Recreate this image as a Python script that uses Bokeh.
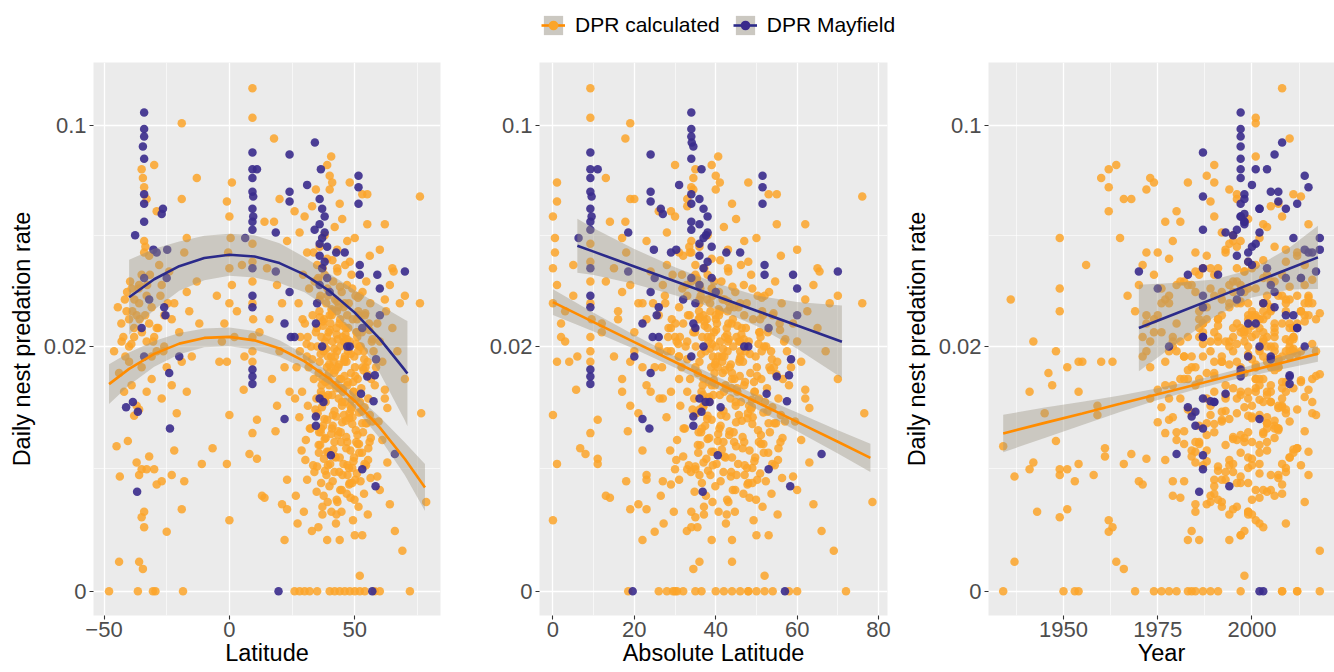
import numpy as np
from bokeh.plotting import figure
from bokeh.layouts import column, row
from bokeh.models import (Range1d, FixedTicker, CustomJSTickFormatter, Legend,
                          LegendItem, ColumnDataSource)
from bokeh.embed import file_html
from bokeh.resources import INLINE

# ---------------- data: DPR Mayfield (latitude, DPR, year) ----------------
may_lat = [-34, -34, -34, -34.5, -34, -34, -34, -34, -37.6, -30.3,
           -29, -24.8, -27, -26.5, -34, -32, -25, -26, -25.5, -35,
           -41.2, -38.5, -36.5, -34, -20, -24, -23.7, -36.8, 9.2, 9.2,
           11, 9.2, 9.2, 9.5, 9.2, 9.5, 9.2, 9.2, 9.2, 9.2,
           9.2, 9.2, 9.2, 9.2, 6.3, 18.5, 18.5, 24, 24, 24,
           24, 34.1, 31, 36.5, 36, 37, 38, 36, 38, 37,
           39, 36, 38, 37, 39, 36, 34, 51.5, 51.5, 51.5,
           42.6, 46, 52, 52, 59, 60, 70, 60, 53, 22,
           24.5, 26, 34.5, 48, 37, 47, 55, 58, 58.5, 57.5,
           52.5, 66, 53, 58.3, 40.5, 19.6, 57, 22, 34.5, 34.5,
           36, 37.5, 35, 40, 36]
may_dpr = [.107, .098, .094, .089, .083, .067, .063, .056, .051, .046,
           .045, .046, .059, .061, .037, .031, .037, .029, .027, .024,
           .0098, .0105, .0092, .018, .018, .015, .0072, .0021, .086, .078,
           .078, .074, .068, .066, .061, .058, .056, .053, .040, .032,
           .029, .0156, .0144, .0132, .050, .052, .039, .085, .068, .064,
           .033, .091, .071, .078, .065, .061, .058, .055, .052, .050,
           .047, .044, .042, .040, .037, .035, .053, .075, .070, .063,
           .045, .045, .041, .038, .038, .034, .039, .027, .024, .025,
           .022, .022, .025, .020, .020, .020, .0144, .0146, .0175, .0106,
           .0117, .0047, .0035, .0024, .0046, 0, 0, .0083, .0086, .0075,
           .011, .0105, .030, .033, .048]
may_year = [1997, 1997, 1997, 1997, 1997, 1998, 1997, 1998, 1995, 2014,
            1999, 2018, 1998, 2002, 2009, 1996, 2013, 2006, 2011, 2012,
            1983, 1990, 1985, 1999, 2005, 1997, 1987, 1986, 1987, 2001,
            2004, 1997, 2005, 1987, 2009, 1997, 1998, 1987, 1987, 1987,
            1987, 1997, 1997, 2010, 2018, 1993, 1970, 2006, 2007, 2007,
            2006, 2008, 2000, 1997, 1998, 2002, 1997, 1998, 2002, 2011,
            2000, 1996, 1999, 2004, 2013, 2005, 1996, 2014, 2015, 2012,
            2015, 2016, 2000, 1991, 1983, 1975, 2017, 2009, 2012, 1999,
            1987, 1987, 2001, 2014, 1978, 2002, 2010, 2010, 2005, 1989,
            1993, 1980, 1987, 1994, 1987, 2002, 2003, 2002, 1984, 1985,
            1987, 1990, 2003, 1997, 2001]

# ---------------- data: DPR calculated, southern studies ----------------
south_lat = [-48, -36.5, -30.5, -29.5, -18.5,
             -35, -34.5, -34, -33, -30, -29, -19, -13, -19, -17, -18, -34, -33.5, -34, -32,
             -41.7, -41, -40, -38, -36, -35, -33, -31, -30, -27, -26, -24, -22, -20, -17, -16, -13, -12, -43, -39, -28,
             -40, -38, -37, -36, -33, -32, -31, -29, -26, -23,
             -46, -44, -42, -40, -39, -37, -35, -33, -31, -29, -27, -25, -23, -21, -19, -17, -15, -36, -38,
             -45, -43.7, -44, -40.5, -37, -35, -33, -30, -36, -34, -35, -34, -36, -34.5, -27, -25, -23, -18, -19, -32, -29, -22]
south_dpr = [0, 0, 0, 0, 0,
             .078, .074, .070, .065, .080, .060, .101, .074, .065, .050, .045, .049, .047, .045, .044,
             .031, .028, .026, .024, .035, .038, .032, .029, .022, .035, .027, .039, .030, .023, .033, .028, .036, .025, .021, .034, .041,
             .020, .022, .027, .030, .021, .025, .018, .024, .020, .026,
             .019, .015, .012, .017, .013, .010, .016, .012, .014, .019, .011, .016, .013, .009, .017, .012, .018, .0095, .0087,
             .0054, .003, .0001, .0059, .004, .0035, .0035, .0035, .0031, .0012, .001, .0007, .0001, .00005, .0027, .00058, .0031, .0027, .0013, .0045, .0025, .005]
south_year = [1934, 1950, 1953, 1954, 1969,
              1962, 1960, 1962, 1968, 1964, 1962, 2001, 1973, 1966, 1949, 1975, 1995, 1996, 1972, 1988,
              1936, 1949, 1974, 1986, 1970, 1990, 1978, 1994, 2000, 1980, 1992, 1985, 1997, 1976, 1998, 2003, 1982, 2008, 1942, 1949, 1971,
              1979, 1991, 2004, 1996, 1989, 2006, 1984, 2010, 1999, 2002,
              1948, 1946, 1941, 1955, 1947, 1959, 1951, 1954, 1981, 1972, 1993, 2001, 1977, 1945, 1963, 2005, 1987, 1983, 1999,
              1934, 1937, 1937, 1948, 1942, 1941, 1949, 1951, 1949, 1943, 1949, 1963, 1964, 1966, 1953, 1962, 1958, 1970, 1951, 1961, 1971, 1984]

south2_lat = [-44.5, -39.6, -35.8, -42.3, -31.7, -37.9, -28.4, -40.8, -33.6, -26.3,
              -43.1, -36.2, -30.4, -38.7, -34.9, -27.5, -41.5, -32.8, -24.6, -39.1]
south2_dpr = [.029, .036, .026, .022, .038, .031, .024, .033, .027, .019,
              .025, .034, .021, .028, .023, .032, .018, .035, .030, .0205]
south2_year = [1988, 1995, 2003, 1979, 2008, 1992, 2011, 1985, 1999, 2006,
               1972, 2001, 1994, 2013, 1990, 2004, 1982, 1997, 2015, 1987]

# ---------------- DPR calculated, tropical studies ----------------
trop_lat = [-6.7, -11, -1, 0, 0, -4, -1, 5.7, 8, 11, 9.2, 11, 13, 14, 18.4, 21, 23, 22, 23,
            1, -1, 0, 0.5, -0.5, 0, 1, 0, -2, -3, 2,
            9.2, 9.2, 9.2, 9.2, 9.2, 9.2, 9.5, 9.2, 9.2, 9.2,
            17.8, 20, 14, 17.8, 23, 15, 19, 21, 16, 12, 20, 22, 17, 24, 19, 6, 3, -5, 5]
trop_dpr = [.0052, .0039, .0039, .0009, .0088, .017, .017, .0123, .0047, .0043, .0067, .0082, .0019, .0018, .0069, .0015, .0028, .0004, .0013,
            .072, .064, .058, .050, .045, .040, .035, .030, .025, .021, .022,
            .121, .104, .048, .042, .036, .030, .026, .022, .019, .017,
            .093, .065, .056, .056, .049, .040, .035, .030, .026, .023, .019, .016, .014, .012, .010, .018, .028, .032, .041]
trop_year = [1961, 1954, 1966, 1962, 1959, 1954, 1960, 1975, 1968, 1972, 1977, 1978, 1979, 1981, 1982, 1985, 1990, 1983, 1995,
             1983, 1989, 1990, 1965, 1993, 1991, 1984, 1976, 1980, 1973, 1986,
             2008, 2001, 1994, 1999, 1996, 2003, 1988, 2006, 2002, 1992,
             2010, 1996, 1977, 1981, 1979, 1987, 1983, 2004, 1991, 1974, 1978, 2007, 1986, 1997, 1989, 1971, 1969, 1967, 1956]

# ---------------- DPR calculated, northern studies ----------------
nhigh_lat = [40.6, 39, 40, 41, 34.5, 40, 48, 53, 55, 76, 55, 62, 60, 65, 65.5, 70, 76, 68,
             62, 28, 26, 30, 33, 44, 45, 42, 38, 50, 47, 36, 43, 31, 56, 39, 48, 35]
nhigh_dpr = [.084, .080, .075, .072, .069, .069, .072, .067, .067, .066, .055, .055, .046, .040, .039, .032, .030, .030,
             .031, .052, .060, .058, .062, .063, .057, .054, .051, .050, .049, .047, .046, .045, .044, .043, .042, .041]
nhigh_year = [2001, 1990, 1988, 1990, 1994, 1972, 1974, 1996, 2011, 2013, 2003, 2015, 2009, 2000, 1998, 2012, 2016, 2014,
              2010, 1992, 1980, 2008, 2005, 2007, 1999, 2004, 1995, 2002, 1997, 2006, 1993, 1985, 2012, 1978, 2009, 2001]

n1_lat = [29.4, 31.8, 27.6, 33.2, 30.1, 28.3, 32.6, 30.9, 26.8, 33.7, 29.0, 31.3, 27.9, 32.1, 30.5, 28.8, 33.4, 31.0, 26.5, 29.7,
          32.9, 27.2, 30.3, 33.9, 28.1, 31.6, 26.2, 29.2, 34.0, 26, 28, 30, 32]
n1_dpr = [.038, .034, .030, .027, .025, .022, .020, .018, .016, .014, .012, .010, .0085, .0072, .006, .005, .0038, .0028, .0019, .0012,
          .0006, .0008, .0042, .0033, .019, .016, .011, .026, .036, 0, 0, 0, 0]
n1_year = [1986, 1999, 2003, 1975, 2010, 1995, 2005, 1982, 1997, 2001, 1990, 2007, 1979, 2004, 1996, 1988, 2000, 1992, 2006, 1985,
           1998, 2002, 1977, 1993, 2009, 1984, 1973, 1991, 1981, 1974, 1976, 1978, 1983]

n2_lat = [37.2, 35.4, 39.1, 36.3, 38.6, 35.9, 37.8, 34.9, 39.6, 36.7, 38.2, 35.1, 37.5, 39.3, 36.0, 38.9, 35.6, 37.0, 39.8, 36.5,
          34.7, 38.4, 36.9, 35.2, 39.0, 37.4, 35.8, 38.0, 36.2, 39.5, 37.7, 35.0, 38.7, 36.6, 34.8, 39.2, 37.1, 35.5, 35, 40,
          39, 34.5, 40, 38, 36]
n2_dpr = [.040, .037, .034, .032, .030, .028, .026, .024, .023, .022, .021, .020, .019, .018, .017, .016, .015, .014, .013, .012,
          .011, .0105, .0098, .009, .0082, .0075, .0068, .0061, .0055, .0049, .0043, .0037, .0031, .0026, .0021, .0016, .0011, .0007, 0, 0,
          .0004, .023, .027, .038, .031]
n2_year = [1996, 2003, 1989, 2007, 1994, 2000, 1986, 2002, 1998, 2011, 1979, 2004, 1995, 2008, 1990, 2001, 1997, 1983, 2005, 1999,
           1988, 2003, 1976, 2009, 1992, 2006, 1980, 1995, 2002, 1985, 2000, 1991, 2007, 1997, 2004, 1989, 1999, 2003, 1980, 1984,
           1994, 1987, 1972, 1974, 1977]

n3_lat = [43.1, 41.4, 44.8, 42.2, 45.6, 40.8, 43.9, 42.7, 45.1, 41.1, 44.3, 42.9, 40.6, 45.8, 43.4, 41.7, 44.0, 42.4, 45.3, 41.0,
          43.6, 44.9, 41.9, 42.6, 45.0, 40.9, 43.3, 44.5, 41.5, 42.1, 45.5, 43.8, 41.2, 44.2, 42.8, 40.7, 42.5, 44, 42, 44,
          46, 40.5, 46, 41, 43]
n3_dpr = [.039, .036, .033, .031, .029, .027, .025, .024, .022, .021, .020, .019, .018, .017, .016, .015, .014, .013, .012, .0115,
          .011, .010, .0093, .0086, .0079, .0072, .0065, .0058, .0051, .0045, .0039, .0033, .0027, .0022, .0017, .0012, .0008, .0004, 0, 0,
          0, .016, .030, .028, .040]
n3_year = [1998, 2005, 1992, 2009, 1987, 2001, 1996, 2006, 1983, 2003, 1994, 2010, 1999, 1977, 2007, 1990, 2002, 1985, 2004, 1997,
           1981, 2008, 1993, 2000, 1975, 2006, 1988, 1998, 2011, 1984, 2002, 1995, 1979, 2005, 1991, 1999, 2009, 1986, 1985, 1987,
           1989, 1973, 1978, 2013, 1989]

n4_lat = [48.7, 46.9, 50.3, 47.6, 51.4, 49.2, 46.4, 50.8, 48.1, 51.9, 47.3, 49.8, 46.7, 50.1, 48.5, 51.2, 47.0, 49.5, 50.6, 46.2,
          48.9, 51.7, 47.8, 49.0, 50.4, 46.6, 51.1, 48.3, 49.7, 47.1, 50.9, 48.0, 46.8, 51.5, 49.3, 50.0, 52, 48, 50, 52,
          49, 51, 47, 52, 46]
n4_dpr = [.038, .035, .032, .030, .028, .026, .024, .023, .021, .020, .019, .018, .017, .016, .015, .014, .013, .012, .011, .0105,
          .0098, .0091, .0084, .0077, .007, .0063, .0056, .005, .0044, .0038, .0032, .0026, .002, .0014, .0009, .0005, .00002, 0, 0, 0,
          .034, .022, .027, .032, .021]
n4_year = [2004, 1994, 2008, 1999, 1986, 2002, 1997, 2006, 1991, 2010, 1980, 2003, 1996, 2007, 1988, 2001, 1993, 2009, 1978, 2005,
           1998, 1984, 2000, 1990, 2007, 1995, 1982, 2004, 1999, 1987, 2002, 1996, 2008, 1992, 2001, 1997, 1998, 1991, 2008, 2012,
           1976, 1971, 2014, 1990, 1981]

n5_lat = [54.6, 53.1, 56.2, 54.0, 55.7, 52.8, 56.8, 53.6, 55.1, 54.3, 56.5, 52.6, 55.4, 53.9, 56.0, 54.8, 53.3, 55.9, 52.9, 54.5,
          56.3, 53.7, 55.2, 53.0, 54, 57.5, 58, 57]
n5_dpr = [.036, .033, .030, .027, .025, .023, .021, .019, .017, .016, .014, .0125, .011, .0098, .0088, .0078, .0068, .0058, .0048, .0038,
          .0029, .002, .0011, .0005, 0, .019, .013, .008]
n5_year = [2006, 1995, 2009, 2000, 1987, 2003, 1998, 2011, 1992, 2005, 1982, 2001, 1996, 2008, 1989, 2004, 1999, 1986, 2002, 1994,
           2007, 1990, 2000, 1997, 2018, 2013, 1979, 2010]

n6_lat = [59, 60, 61, 62, 62, 63, 59, 60, 64, 66, 69, 76.5, 78.5, 58, 60, 72, 61, 63, 65, 67, 70, 59.5, 62.5, 64, 58.5]
n6_dpr = [.025, .021, .017, .0123, .011, .0097, .003, .0022, .0015, .0006, .00022, .009, .0016, 0, 0, 0, .006, .004, .024, .019,
          .014, .008, .028, .035, .016]
n6_year = [2012, 1993, 2004, 2015, 1999, 2007, 1997, 2003, 1988, 1984, 2018, 2016, 2014, 1997, 2008, 2012, 1980, 1985, 2011, 2017,
           2016, 1992, 2009, 2014, 2006]

n7_lat = [44.2, 38.9, 51.3, 41.6, 47.4, 36.8, 53.2, 45.7, 39.7, 49.6, 42.9, 46.1, 37.9, 50.7, 44.6, 40.3, 48.2, 52.4, 43.7, 38.3,
          47.9, 41.8, 50.2, 45.2, 36.4, 49.1, 42.3, 53.8, 46.3, 39.4, 44.9, 51.6, 40.1, 48.6, 43.2, 37.3, 47.2, 50.5, 42.6, 45.9]
n7_dpr = [.026, .022, .019, .017, .024, .013, .016, .021, .015, .012, .028, .018, .011, .023, .014, .025, .010, .020, .0165, .0135,
          .009, .0195, .0145, .0125, .0185, .0085, .0155, .0175, .0225, .0115, .0105, .027, .0235, .0095, .0215, .0245, .0135, .0205, .0125, .0175]
n7_year = [1999, 2004, 1989, 2007, 1995, 2002, 1985, 2010, 1998, 2001, 2005, 1992, 2008, 1997, 2003, 1987, 2000, 2006, 1994, 2009,
           1996, 2002, 1990, 2011, 1999, 2004, 1983, 2007, 2001, 1993, 2005, 2015, 1998, 2012, 2003, 1991, 2008, 2016, 1995, 2000]

n8_lat = [33.6, 47.8, 39.2, 55.3, 42.1, 36.4, 50.9, 44.7, 31.2, 53.5,
          38.1, 46.2, 41.3, 57.1, 35.7, 49.4, 43.5, 37.6, 52.1, 45.3,
          32.4, 48.4, 40.2, 54.2, 36.9, 51.7, 44.1, 39.8, 47.1, 42.8,
          34.3, 50.2, 38.6, 56.4, 45.9, 41.1, 53.0, 37.2, 49.9, 43.9,
          30.8, 46.6, 40.7, 52.7, 35.3, 48.9, 42.4, 55.8, 39.5, 44.4,
          33.0, 51.3, 37.9, 46.9, 41.9, 54.9, 36.1, 49.0, 43.0, 38.4]
n8_dpr = [.045, .0025, .032, .0042, .018, .0068, .026, .0012, .022, .0155,
          .0034, .041, .0088, .0215, .0048, .0135, .029, .0019, .0105, .0245,
          .0072, .0185, .0039, .0275, .0115, .0056, .0345, .0165, .0031, .0225,
          .0095, .0028, .0195, .0062, .0145, .0425, .0078, .0255, .0017, .0125,
          .0205, .0052, .0285, .0092, .0365, .0108, .0044, .0235, .0138, .0068,
          .0175, .0315, .0083, .0215, .0058, .0148, .0265, .0036, .0305, .0112]
n8_year = [2012, 2008, 2015, 1994, 2010, 2003, 2017, 1999, 2011, 2006,
           1991, 2014, 2002, 2009, 1997, 2013, 2005, 1989, 2016, 2000,
           2007, 2012, 1995, 2018, 2004, 1986, 2010, 2001, 2015, 1998,
           2009, 1993, 2011, 2006, 2017, 2003, 1988, 2014, 2000, 2008,
           1996, 2012, 2005, 1992, 2016, 2002, 2010, 1999, 2013, 1990,
           2007, 2015, 1994, 2011, 2004, 2018, 2001, 2009, 1997, 2014]

n9_lat = [38.4, 45.1, 51.8, 41.2, 48.3, 35.6, 53.9, 43.4, 39.9, 50.6,
          46.4, 37.1, 44.0, 52.3, 40.6, 47.7, 55.4, 42.7, 36.6, 49.5,
          44.8, 38.9, 51.1, 41.9, 47.0, 54.4, 43.1, 39.3, 49.0, 45.7]
n9_dpr = [.0062, .0031, .0048, .0075, .0018, .0055, .0039, .0069, .0024, .0058,
          .0081, .0014, .0044, .0027, .0066, .0036, .0052, .0011, .0072, .0041,
          .0022, .0049, .0065, .0033, .0058, .0078, .0016, .0038, .0026, .0088]
n9_year = [1998, 2005, 2011, 1986, 2002, 1993, 2008, 2014, 1990, 2000,
           2006, 1996, 2010, 1982, 2003, 1999, 2012, 1994, 2007, 1988,
           2001, 2015, 1997, 2009, 1985, 2004, 1992, 2013, 1999, 2017]

# ---------------- fitted curves and 95% bands ----------------
fit1_lat_calc = [-48, -40, -30, -20, -10, 0, 10, 20, 30, 40, 50, 60, 70, 78]
fit1_dpr_calc = [.01316, .01572, .01850, .02057, .02178, .02201, .02126, .01957, .01707, .01402, .01065, .00730, .00428, .00234]
fit1_lo_calc = [.01022, .01298, .01609, .01845, .01983, .02004, .01933, .01796, .01580, .01307, .00969, .00617, .00308, .00123]
fit1_hi_calc = [.01655, .01877, .02111, .02283, .02385, .02410, .02330, .02126, .01841, .01500, .01165, .00853, .00574, .00389]

fit1_lat_may = [-40, -30, -20, -10, 0, 10, 20, 30, 40, 50, 60, 70, 71]
fit1_dpr_may = [.03160, .03666, .04064, .04321, .04428, .04374, .04160, .03802, .03326, .02763, .02156, .01549, .01490]
fit1_lo_may = [.02247, .02836, .03339, .03636, .03767, .03718, .03557, .03297, .02860, .02245, .01502, .00812, .00745]
fit1_hi_may = [.04265, .04627, .04876, .05079, .05154, .05096, .04820, .04351, .03834, .03349, .02956, .02587, .02562]

fit2_abs_calc = [0, 10, 20, 30, 40, 50, 60, 70, 78]
fit2_dpr_calc = [.03029, .02534, .02089, .01697, .01350, .01050, .00795, .00582, .00438]
fit2_lo_calc = [.02703, .02320, .01945, .01590, .01257, .00955, .00690, .00474, .00331]
fit2_hi_calc = [.03377, .02760, .02239, .01807, .01447, .01150, .00910, .00702, .00562]

fit2_abs_may = [6, 10, 20, 30, 40, 50, 60, 71]
fit2_dpr_may = [.04730, .04533, .04053, .03608, .03194, .02810, .02455, .02096]
fit2_lo_may = [.03862, .03791, .03527, .03213, .02857, .02444, .01950, .01415]
fit2_hi_may = [.05707, .05355, .04623, .04031, .03554, .03207, .03032, .02944]

fit3_year_calc = [1934, 1945, 1955, 1965, 1975, 1985, 1995, 2005, 2017.5]
fit3_dpr_calc = [.00667, .00784, .00899, .01025, .01162, .01307, .01464, .01630, .01854]
fit3_lo_calc = [.00486, .00619, .00759, .00917, .01078, .01234, .01386, .01526, .01699]
fit3_hi_calc = [.00883, .00974, .01055, .01141, .01250, .01382, .01545, .01738, .02019]

fit3_year_may = [1970, 1980, 1990, 2000, 2010, 2017.5]
fit3_dpr_may = [.02396, .02749, .03131, .03547, .03991, .04344]
fit3_lo_may = [.01529, .02057, .02654, .03156, .03371, .03388]
fit3_hi_may = [.03507, .03564, .03656, .03966, .04674, .05446]

y_tick_values = [0, 0.02, 0.1]
x1_ticks = [-50, 0, 50]
x2_ticks = [0, 20, 40, 60, 80]
x3_ticks = [1950, 1975, 2000]

# ---------------- assemble ----------------
groups = [(south_lat, south_dpr, south_year), (south2_lat, south2_dpr, south2_year),
          (trop_lat, trop_dpr, trop_year),
          (nhigh_lat, nhigh_dpr, nhigh_year), (n1_lat, n1_dpr, n1_year),
          (n2_lat, n2_dpr, n2_year), (n3_lat, n3_dpr, n3_year),
          (n4_lat, n4_dpr, n4_year), (n5_lat, n5_dpr, n5_year), (n6_lat, n6_dpr, n6_year),
          (n7_lat, n7_dpr, n7_year), (n8_lat, n8_dpr, n8_year), (n9_lat, n9_dpr, n9_year)]
for g in groups:
    assert len(g[0]) == len(g[1]) == len(g[2]), [len(x) for x in g]
assert len(may_lat) == len(may_dpr) == len(may_year)

calc_lat = np.array(sum([list(g[0]) for g in groups], []), dtype=float)
calc_dpr = np.array(sum([list(g[1]) for g in groups], []), dtype=float)
calc_year = np.array(sum([list(g[2]) for g in groups], []), dtype=float)
mlat = np.array(may_lat, dtype=float)
mdpr = np.array(may_dpr, dtype=float)
myear = np.array(may_year, dtype=float)

POW = 0.4


def tr(v):
    return np.power(np.clip(np.asarray(v, dtype=float), 0, None), POW)


Y_T = [float(v) for v in tr(y_tick_values)]
Y_MINOR = [(Y_T[0] + Y_T[1]) / 2, (Y_T[1] + Y_T[2]) / 2]

FONT = "Liberation Sans"
ORANGE_PT = "#FBA52A"
PURPLE_PT = "#3A2B8C"
ORANGE_LN = "#FF8C00"
PURPLE_LN = "#2B2A8A"
BAND = "#9B9482"
BG = "#EBEBEB"

YFMT = CustomJSTickFormatter(code="""
if (Math.abs(tick) < 1e-9) { return "0"; }
const v = Math.pow(tick, 2.5);
return String(Number(v.toPrecision(2)));
""")

PANEL_H = 618


def panel(xr, xt, xm, xlabel, ylabel, width, bl, br):
    p = figure(width=width, height=PANEL_H, x_range=Range1d(*xr), y_range=Range1d(-0.0208, 0.4517),
               output_backend="svg", toolbar_location=None,
               min_border_left=bl, min_border_right=br, min_border_top=8, min_border_bottom=57)
    p.background_fill_color = BG
    p.border_fill_color = "white"
    p.outline_line_color = None
    p.xaxis.ticker = FixedTicker(ticks=xt, minor_ticks=xm)
    p.yaxis.ticker = FixedTicker(ticks=Y_T, minor_ticks=Y_MINOR)
    p.yaxis.formatter = YFMT
    p.xaxis.axis_label = xlabel
    if ylabel:
        p.yaxis.axis_label = ylabel
    for ax in list(p.xaxis) + list(p.yaxis):
        ax.axis_line_color = None
        ax.major_tick_line_color = "#333333"
        ax.major_tick_line_width = 1.1
        ax.major_tick_out = 4
        ax.major_tick_in = 0
        ax.minor_tick_out = 0
        ax.minor_tick_in = 0
        ax.major_label_text_font = FONT
        ax.major_label_text_font_size = "22px"
        ax.major_label_text_color = "#4D4D4D"
        ax.axis_label_text_font = FONT
        ax.axis_label_text_font_size = "23.5px"
        ax.axis_label_text_color = "black"
        ax.axis_label_text_font_style = "normal"
    for ax in p.xaxis:
        ax.major_label_standoff = 2
        ax.axis_label_standoff = 0
    for ax in p.yaxis:
        ax.major_label_standoff = 3
        ax.axis_label_standoff = 6
    p.grid.grid_line_color = "white"
    p.grid.grid_line_width = 1.3
    p.grid.minor_grid_line_color = "white"
    p.grid.minor_grid_line_width = 0.6
    return p


def draw(p, xc, xmay, fits):
    p.scatter(xc, tr(calc_dpr), size=8.5, fill_color=ORANGE_PT, fill_alpha=0.85, line_color=None)
    p.scatter(xmay, tr(mdpr), size=8.5, fill_color=PURPLE_PT, fill_alpha=0.9, line_color=None)
    for fx, fy, flo, fhi, col in fits:
        p.varea(x=fx, y1=tr(flo), y2=tr(fhi), fill_color=BAND, fill_alpha=0.4)
        p.line(fx, tr(fy), line_color=col, line_width=2.6)


p1 = panel((-54.2, 84.2), x1_ticks, [-25, 25, 75], "Latitude", "Daily nest predation rate", 446, 93, 6)
draw(p1, calc_lat, mlat,
     [(fit1_lat_calc, fit1_dpr_calc, fit1_lo_calc, fit1_hi_calc, ORANGE_LN),
      (fit1_lat_may, fit1_dpr_may, fit1_lo_may, fit1_hi_may, PURPLE_LN)])

p2 = panel((-3.3, 82.2), x2_ticks, [10, 30, 50, 70], "Absolute Latitude", None, 454, 93, 13)
draw(p2, np.abs(calc_lat), np.abs(mlat),
     [(fit2_abs_calc, fit2_dpr_calc, fit2_lo_calc, fit2_hi_calc, ORANGE_LN),
      (fit2_abs_may, fit2_dpr_may, fit2_lo_may, fit2_hi_may, PURPLE_LN)])

p3 = panel((1930.1, 2021.9), x3_ticks, [1937.5, 1962.5, 1987.5, 2012.5], "Year",
           "Daily nest predation rate", 434, 86, 0)
draw(p3, calc_year, myear,
     [(fit3_year_calc, fit3_dpr_calc, fit3_lo_calc, fit3_hi_calc, ORANGE_LN),
      (fit3_year_may, fit3_dpr_may, fit3_lo_may, fit3_hi_may, PURPLE_LN)])

# ---------------- legend strip ----------------
LEG_H = 54
leg = figure(width=1334, height=LEG_H, x_range=Range1d(0, 1), y_range=Range1d(0, 1),
             output_backend="svg", toolbar_location=None, x_axis_location=None, y_axis_location=None,
             min_border_left=0, min_border_right=0, min_border_top=0, min_border_bottom=0)
leg.grid.visible = False
leg.outline_line_color = None
items = []
for label, lc, pc in [("DPR calculated", ORANGE_LN, ORANGE_PT), ("DPR Mayfield", PURPLE_LN, PURPLE_PT)]:
    src = ColumnDataSource(dict(x=[5.0, 6.0], y=[5.0, 5.0], y1=[5.0, 5.0], y2=[6.0, 6.0]))
    r0 = leg.varea(x="x", y1="y1", y2="y2", source=src, fill_color=BG, fill_alpha=1.0)
    r1 = leg.varea(x="x", y1="y1", y2="y2", source=src, fill_color=BAND, fill_alpha=0.4)
    r2 = leg.line(x="x", y="y", source=src, line_color=lc, line_width=2.6)
    r3 = leg.scatter(x="x", y="y", source=src, size=8, fill_color=pc, line_color=None)
    items.append(LegendItem(label=label, renderers=[r0, r1, r2, r3]))
legend = Legend(items=items, orientation="horizontal", location=(541, LEG_H - 36.5),
                glyph_width=24, glyph_height=24, label_standoff=10, spacing=13,
                padding=0, margin=0, border_line_color=None, background_fill_alpha=0,
                label_text_font=FONT, label_text_font_size="21px", label_text_color="black",
                label_height=24)
leg.add_layout(legend)

layout = column(leg, row(p1, p2, p3))
open("out.html", "w").write(file_html(layout, INLINE))
